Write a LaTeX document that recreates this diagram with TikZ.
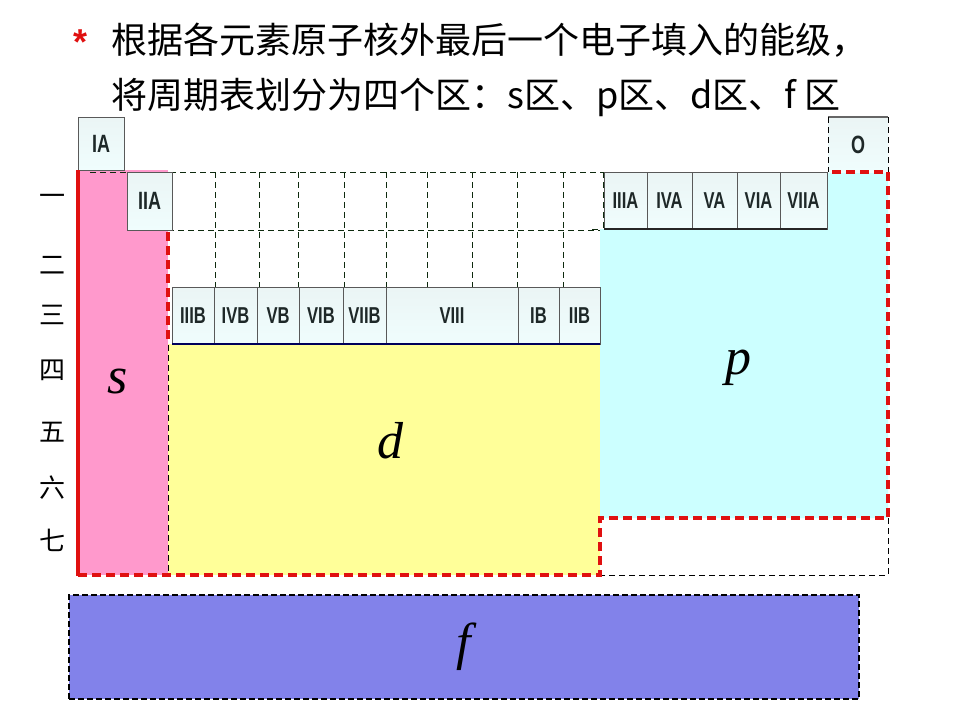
\documentclass[tikz,border=0pt]{standalone}
\usepackage{fontspec}
\setmainfont{Liberation Sans}
\newfontfamily\cjk{Noto Sans CJK SC}
\newfontfamily\ital{Liberation Serif}
\newfontfamily\lblfont[FakeStretch=0.72]{Liberation Sans}
\definecolor{spink}{HTML}{FF99CC}
\definecolor{dyellow}{HTML}{FFFF99}
\definecolor{pcyan}{HTML}{CCFFFF}
\definecolor{fblue}{HTML}{8282EA}
\definecolor{redline}{HTML}{E01010}
\definecolor{gridc}{HTML}{0E2A0E}
\definecolor{lbltext}{HTML}{1E2828}
\tikzset{
  lbl/.style={draw=black!65, line width=0.8pt, top color=white!92!teal, bottom color=black!12!cyan!6,
    inner sep=0pt, outer sep=0pt, anchor=north west, text=lbltext,
    font=\lblfont\bfseries\fontsize{23}{23}\selectfont},
  gridline/.style={draw=gridc, line width=0.7pt, dash pattern=on 6pt off 4pt},
  reddash/.style={draw=redline, line width=3.5pt, dash pattern=on 9pt off 5pt},
  rowlbl/.style={font=\cjk\fontsize{26}{26}\selectfont, inner sep=0pt},
  blocklbl/.style={font=\ital\itshape\fontsize{52}{52}\selectfont, inner sep=0pt},
  titletext/.style={font=\cjk\fontsize{36}{36}\selectfont, anchor=west, inner sep=0pt}
}
\begin{document}
\begin{tikzpicture}[x=1pt,y=-1pt]
\useasboundingbox (0,0) rectangle (960,720);
\fill[white] (0,0) rectangle (960,720);

% title
\node[font=\bfseries\fontsize{36}{36}\selectfont, text=redline, inner sep=0pt] (star) at (81,42) {*};
\node[titletext] (t1) at (111,40) {根据各元素原子核外最后一个电子填入的能级，};
\node[titletext] (t2) at (111,97) {将周期表划分为四个区：s区、p区、d区、f 区};

% colour blocks
\fill[spink] (78,170) rectangle (168,575);
\fill[dyellow] (168,344) rectangle (600,575);
\fill[pcyan] (600,229) -- (828,229) -- (828,172) -- (888,172) -- (888,518) -- (600,518) -- cycle;

% grid of periods 1-3 (d/ds columns)
\draw[gridline] (90,172) -- (603,172);
\draw[gridline] (168,230) -- (600,230);
\foreach \gx in {215,259,298,344,386,427,472,517,563}
  \draw[gridline] (\gx,172) -- (\gx,287);
\draw[gridline] (603,172) -- (603,230);
\draw[gridline] (592,229) -- (600,229);

% group labels
\node[lbl, minimum width=46pt, minimum height=53pt, font=\lblfont\bfseries\fontsize{25}{25}\selectfont] (IA) at (78,117) {IA};
\node[lbl, minimum width=45pt, minimum height=58pt, font=\lblfont\bfseries\fontsize{25}{25}\selectfont] (IIA) at (127,172) {IIA};

\node[lbl, minimum width=43pt, minimum height=57pt] (IIIA) at (604,172) {IIIA};
\node[lbl, minimum width=45pt, minimum height=57pt] (IVA) at (647,172) {IVA};
\node[lbl, minimum width=45pt, minimum height=57pt] (VA) at (692,172) {VA};
\node[lbl, minimum width=43pt, minimum height=57pt] (VIA) at (737,172) {VIA};
\node[lbl, minimum width=47pt, minimum height=57pt] (VIIA) at (780,172) {VIIA};
\draw[black!85, line width=1.5pt] (IIIA.south west) -- (VIIA.south east);

\node[lbl, draw=none, minimum width=60pt, minimum height=55pt, font=\lblfont\bfseries\fontsize{25}{25}\selectfont] (O) at (828,117) {O};
\draw[black!60, line width=1.5pt] (O.north west) -- (O.north east);
\draw[gridline, draw=black] (O.north west) -- (O.south west);
\draw[gridline, draw=black] (O.north east) -- (O.south east);

\node[lbl, minimum width=42pt, minimum height=57pt] (IIIB) at (172,287) {IIIB};
\node[lbl, minimum width=43pt, minimum height=57pt] (IVB) at (214,287) {IVB};
\node[lbl, minimum width=42pt, minimum height=57pt] (VB) at (257,287) {VB};
\node[lbl, minimum width=44pt, minimum height=57pt] (VIB) at (299,287) {VIB};
\node[lbl, minimum width=43pt, minimum height=57pt] (VIIB) at (343,287) {VIIB};
\node[lbl, minimum width=132pt, minimum height=57pt] (VIII) at (386,287) {VIII};
\node[lbl, minimum width=41pt, minimum height=57pt] (IB) at (518,287) {IB};
\node[lbl, minimum width=41pt, minimum height=57pt] (IIB) at (559,287) {IIB};
\draw[black!40!blue!60!black, line width=2.5pt] (IIIB.south west) -- (IIB.south east);

% outlines
\draw[redline, line width=3.5pt] (78,170) -- (78,576);
\draw[reddash] (168,232) -- (168,343);
\draw[gridline, draw=black] (168,345) -- (168,573);
\draw[gridline, draw=black] (888,518) -- (888,575) -- (600,575);
\draw[reddash] (78,575) -- (600,575) -- (600,518) -- (888,518) -- (888,172) -- (828,172);

% f block
\node[draw=black, line width=1.8pt, dash pattern=on 6pt off 3pt, fill=fblue, anchor=north west,
  minimum width=790pt, minimum height=104pt, inner sep=0pt] (fblock) at (68,594) {};

% block letters
\node[blocklbl] (s) at (118,381) {s};
\node[blocklbl] (d) at (390,441) {d};
\node[blocklbl] (p) at (738,368) {p};
\node[blocklbl] (f) at (fblock.center) {f};

% period labels
\node[rowlbl] (r1) at (52,200) {一};
\node[rowlbl] (r2) at (52,265) {二};
\node[rowlbl] (r3) at (52,315) {三};
\node[rowlbl] (r4) at (52,370) {四};
\node[rowlbl] (r5) at (52,432) {五};
\node[rowlbl] (r6) at (52,488) {六};
\node[rowlbl] (r7) at (52,540) {七};
\end{tikzpicture}
\end{document}
